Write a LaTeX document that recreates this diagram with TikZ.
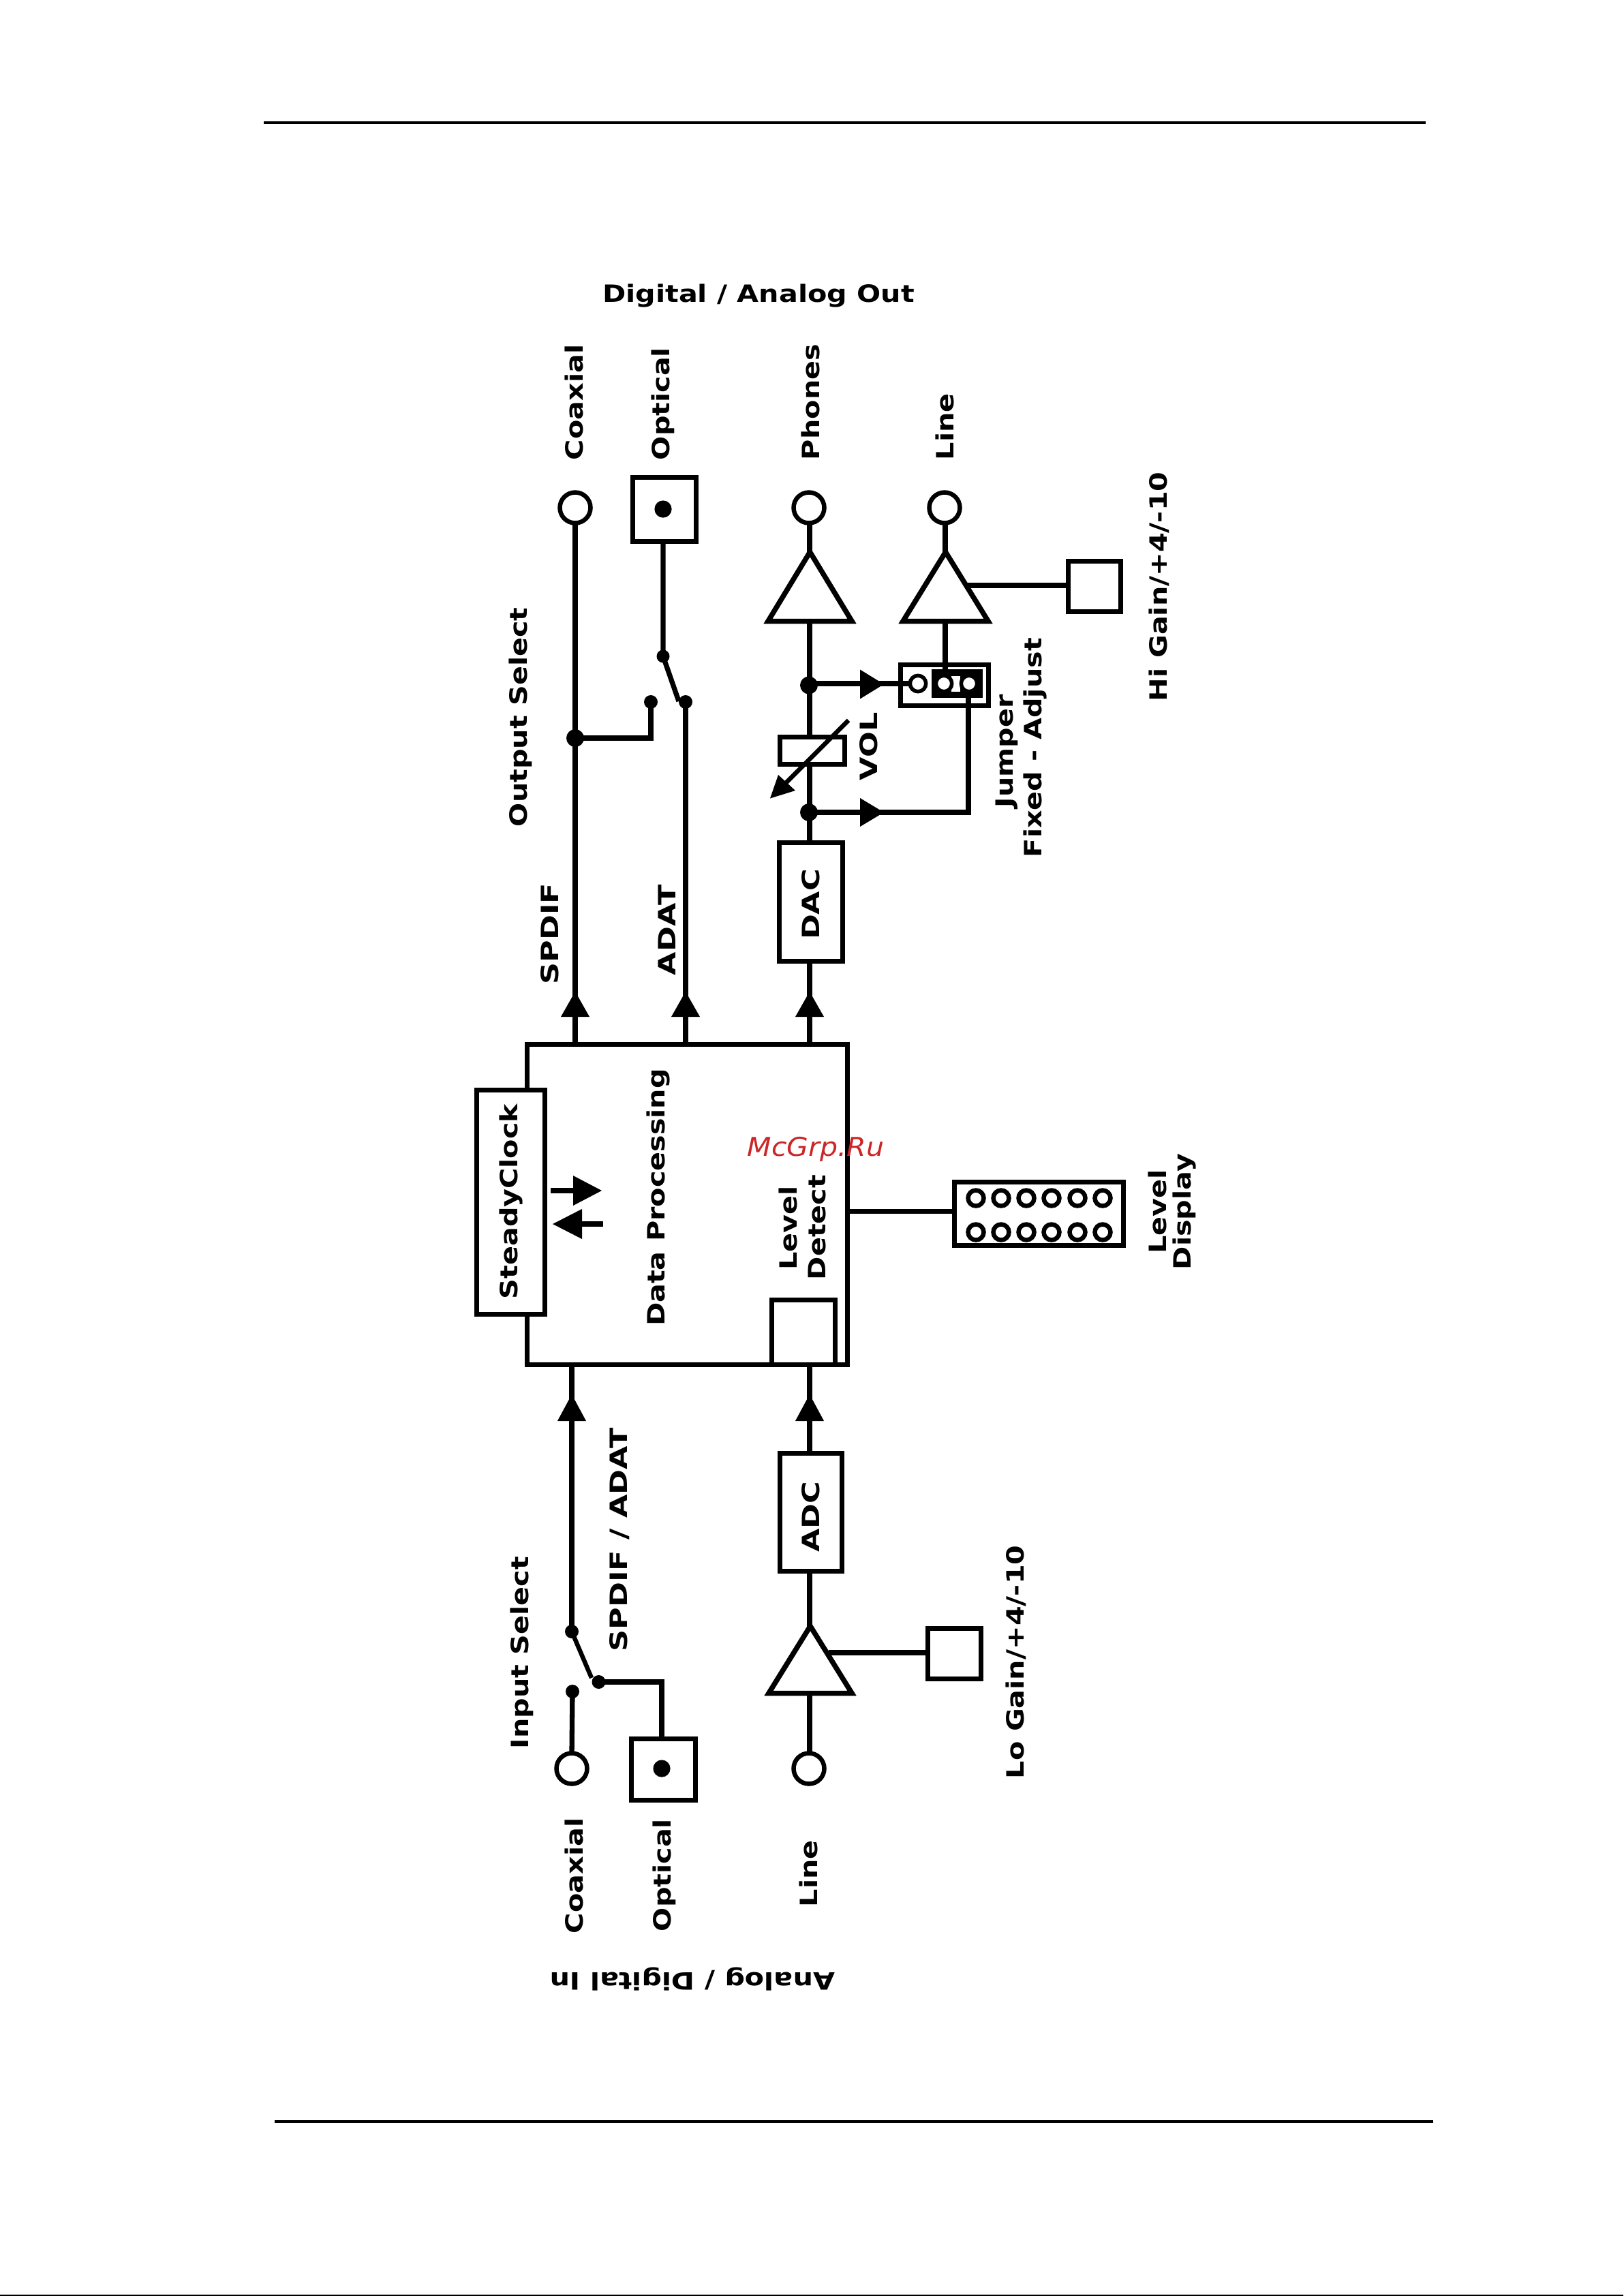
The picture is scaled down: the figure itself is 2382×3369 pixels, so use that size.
\documentclass[tikz,border=0pt]{standalone}
\usepackage{fontspec}
\setmainfont{DejaVu Sans}
\newfontfamily\lblfam[FakeStretch=1.18]{DejaVu Sans}
\newfontfamily\capfam[FakeStretch=1.27]{DejaVu Sans}
\newfontfamily\wmfam[FakeStretch=1.08]{DejaVu Sans}
\newcommand{\lblfont}{\lblfam\fontsize{35}{40}\selectfont\bfseries}
\newcommand{\capfont}{\capfam\fontsize{35}{40}\selectfont\bfseries}
\tikzset{
  x=1pt,y=-1pt,
  wire/.style={draw=black,line width=7.3pt},
  boxx/.style={draw=black,line width=7pt,fill=white,miter limit=10},
  tri/.style={draw=black,line width=7.5pt,fill=white,miter limit=10},
  port/.style={draw=black,line width=6.5pt,fill=white},
  pin/.style={draw=black,line width=5.5pt,fill=white},
  blob/.style={fill=black},
  head/.style={fill=black},
  lbl/.style={rotate=90,anchor=base west,inner sep=0pt,outer sep=0pt,font=\lblfont},
  lblk/.style={rotate=90,anchor=base west,inner sep=0pt,outer sep=0pt,font=\capfont},
  lblc/.style={rotate=90,anchor=base,inner sep=0pt,outer sep=0pt,font=\lblfont},
  lblq/.style={rotate=90,anchor=base,inner sep=0pt,outer sep=0pt,font=\capfont},
}
\begin{document}
\begin{tikzpicture}
\useasboundingbox (0,0) rectangle (2382,3369);
% page rules
\fill[black] (387,178) rectangle (2092,182);
\fill[black] (403,3111) rectangle (2103,3115);
\fill[black] (0,3367.3) rectangle (2382,3369);
% Output: coaxial / optical
\coordinate (coaxo) at (844,745);
\coordinate (optoo) at (973,747);
\coordinate (spdj) at (844,1083);
\coordinate (swa) at (973,963);
\coordinate (swb) at (996,1029);
\coordinate (swc) at (1006,1030);
\coordinate (swd) at (955,1030);
\draw[wire] (coaxo) -- (844,1529);
\draw[wire] (optoo) -- (swa) -- (swb);
\draw[wire] (swc) -- (1006,1529);
\draw[wire] (spdj) -- (955,1083) -- (swd);
\fill[blob] (spdj) circle (13) (swa) circle (9.5) (swc) circle (10) (swd) circle (10);
\draw[port] (coaxo) circle (22.5);
\draw[boxx] (928.5,700.5) rectangle (1021.5,794.5);
\fill[blob] (optoo) circle (12.6);
% Output phones / line
\draw[wire] (1188,745) -- (1188,1236);
\draw[wire] (1188,1410) -- (1188,1529);
\draw[wire] (1387,745) -- (1387,985);
\draw[port] (1187,745) circle (22.5);
\draw[port] (1386,745) circle (22.5);
\draw[tri] (1188.5,810) -- (1250,911.5) -- (1127,911.5) -- cycle;
\draw[tri] (1387.5,810) -- (1450,911.5) -- (1325,911.5) -- cycle;
\draw[wire] (1420,859) -- (1564,859);
\draw[boxx] (1567.5,823.5) rectangle (1644.5,897.5);
% jumper
\draw[boxx] (1321.5,975) rectangle (1450,1035);
\draw[wire] (1187,1003) -- (1340,1003);
\draw[wire] (1387,913) -- (1387,985);
\fill[black] (1367,982) rectangle (1442,1024);
\fill[white] (1396,992) rectangle (1409,1015);
\draw[pin] (1347,1003) circle (11.7);
\draw[pin] (1385,1003) circle (11.7);
\draw[pin] (1422,1003) circle (11.7);
\draw[wire] (1187,1192) -- (1421,1192) -- (1421,1022);
\fill[blob] (1187,1005.5) circle (13) (1187,1192) circle (13);
\fill[head] (1297,1004) -- (1262,982.5) -- (1262,1025.5) -- cycle;
\fill[head] (1297,1192) -- (1262,1171) -- (1262,1213) -- cycle;
% VOL
\draw[boxx] (1144.5,1081.5) rectangle (1239,1121.5);
\draw[wire,line width=6.5pt] (1245,1057) -- (1148,1154);
\fill[head] (1130,1171.5) -- (1142,1137) -- (1167,1160) -- cycle;
% DAC
\draw[boxx] (1143,1236.5) rectangle (1236.5,1410.5);
\node[lblq] (dac) at (1202,1327) {DAC};
% arrows into outputs
\fill[head] (844,1455) -- (823,1492) -- (865,1492) -- cycle;
\fill[head] (1006,1455) -- (985,1492) -- (1027,1492) -- cycle;
\fill[head] (1188,1455) -- (1167,1492) -- (1209,1492) -- cycle;
% main box
\draw[boxx] (773,1532) rectangle (1243,2002);
\draw[boxx] (699.5,1599.5) rectangle (799,1928);
\draw[boxx] (1132.5,1907.5) rectangle (1225.5,2002);
\node[lblc] (sclk) at (759,1763) {SteadyClock};
\node[lblc] (dp) at (975,1757) {Data Processing};
\node[lblc] (ld1) at (1169,1802) {Level};
\node[lblc] (ld2) at (1211,1801) {Detect};
\draw[wire] (808,1747) -- (845,1747);
\fill[head] (883,1747) -- (841,1725) -- (841,1769) -- cycle;
\draw[wire] (850,1796) -- (885,1796);
\fill[head] (811,1796) -- (854,1774) -- (854,1818) -- cycle;
% level display
\draw[wire] (1246,1777.5) -- (1397,1777.5);
\draw[boxx] (1400.5,1734.5) rectangle (1648.5,1827);
\foreach \cx in {1432,1469,1506,1543,1581,1618}{
  \draw[port] (\cx,1758) circle (11.5);
  \draw[port] (\cx,1808) circle (11.5);
}
\node[lblc] (ldsp1) at (1711,1778) {Level};
\node[lblc] (ldsp2) at (1747,1778) {Display};
% Input side
\coordinate (insw) at (839,2394);
\coordinate (inarm) at (868,2462);
\coordinate (inb) at (878.5,2468);
\coordinate (inc) at (840,2482);
\draw[wire,line width=8pt] (839,2005) -- (insw);
\draw[wire,line width=6.5pt] (insw) -- (inarm);
\draw[wire] (inb) -- (971,2468) -- (971,2550);
\draw[wire] (inc) -- (839,2575);
\fill[blob] (insw) circle (10) (inb) circle (10) (inc) circle (10);
\draw[port] (839,2595) circle (22.5);
\draw[boxx] (926.5,2551.5) rectangle (1020.5,2641.5);
\fill[blob] (971,2595) circle (12.6);
\fill[head] (839,2046) -- (818,2085) -- (860,2085) -- cycle;
\fill[head] (1188,2046) -- (1167,2085) -- (1209,2085) -- cycle;
% Analog line in
\draw[wire] (1188,2004) -- (1188,2132);
\draw[wire] (1188,2306) -- (1188,2395);
\draw[wire] (1188,2480) -- (1188,2572);
\draw[port] (1187,2595) circle (22.5);
\draw[boxx] (1144.5,2132.5) rectangle (1235.5,2305.5);
\node[lblq] (adc) at (1202,2226) {ADC};
\draw[wire] (1216,2425) -- (1358,2425);
\draw[tri] (1189,2386) -- (1250,2484.5) -- (1128,2484.5) -- cycle;
\draw[boxx] (1361.5,2389.5) rectangle (1439,2463.5);
% Labels (output)
\node[font=\lblfont,inner sep=0pt] (ttl) at (1113,434) {Digital / Analog Out};
\node[lbl] (l1) at (855,675) {Coaxial};
\node[lbl] (l2) at (982,675) {Optical};
\node[lbl] (l3) at (1202,675) {Phones};
\node[lbl] (l4) at (1399,675) {Line};
\node[lbl] (l5) at (773,1213) {Output Select};
\node[lblk] (l6) at (819,1444) {SPDIF};
\node[lblk] (l7) at (991,1431) {ADAT};
\node[lblk] (l8) at (1287,1145) {VOL};
\node[lbl] (l9) at (1486,1185) {Jumper};
\node[lbl] (l10) at (1528,1258) {Fixed - Adjust};
\node[lbl] (l11) at (1712,1029) {Hi Gain/+4/-10};
% Labels (input)
\node[lbl] (l12) at (775,2566) {Input Select};
\node[lblk] (l13) at (920,2423) {SPDIF / ADAT};
\node[lbl] (l14) at (1502,2610) {Lo Gain/+4/-10};
\node[lbl] (l15) at (855,2837) {Coaxial};
\node[lbl] (l16) at (984,2834) {Optical};
\node[lbl] (l17) at (1199,2798) {Line};
\node[font=\lblfont,inner sep=0pt,rotate=180] (ttl2) at (1016,2904) {Analog / Digital In};
% watermark
\node[font=\wmfam\fontsize{38}{40}\selectfont\itshape,text={rgb,1:red,0.8;green,0.15;blue,0.15},inner sep=0pt] (wm) at (1197,1686) {McGrp.Ru};
\end{tikzpicture}
\end{document}
